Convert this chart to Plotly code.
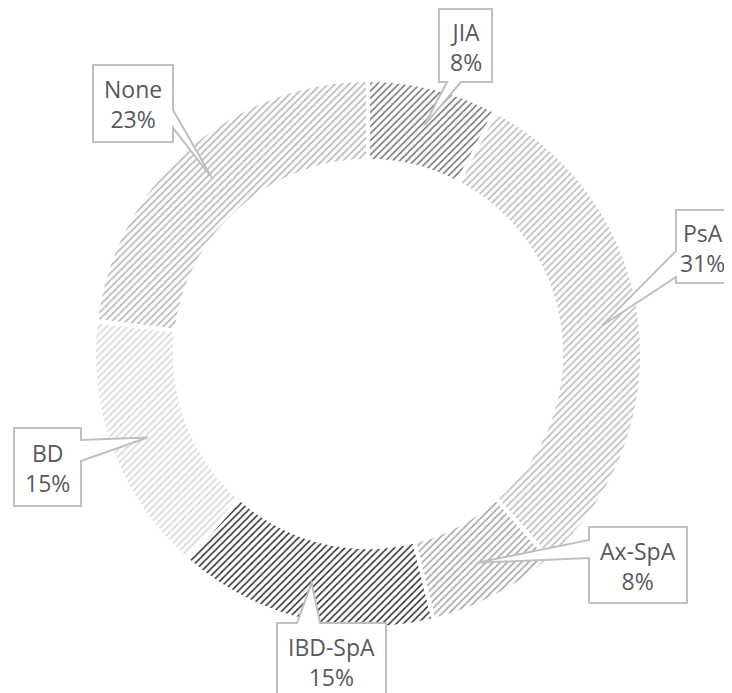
import math
import plotly.graph_objects as go

# ---------------- data ----------------
labels = ["JIA", "PsA", "Ax-SpA", "IBD-SpA", "BD", "None"]
counts = [1, 4, 1, 2, 2, 3]

# ---------------- styles ----------------
bg_colors = ["#cfcfcf", "#ececec", "#dcdcdc", "#b3b3b3", "#f5f5f5", "#e6e6e6"]
fg_colors = ["#737373", "#b9b9b9", "#a2a2a2", "#2e2e2e", "#d6d6d6", "#b3b3b3"]

OFF = 8  # page body margin
W, H = 732 - OFF, 693 - OFF
ML, MT, PW, PH = 86, 72, 548, 548
MR, MB = W - ML - PW, H - MT - PH
CX, CY = OFF + ML + PW / 2, OFF + MT + PH / 2  # page pixels
R = min(PW, PH) / 2
TIP_R = 0.86 * R

# callout boxes in page pixels: box (x0, y0, x1, y1), wedge edge, wedge base span, text centre
callouts = {
    "JIA": dict(box=(439, 9, 492, 82), edge="bottom", base=(447, 461), text=(465.5, 47)),
    "PsA": dict(box=(676, 210, 740, 283), edge="left", base=(251, 277), text=(702, 248)),
    "Ax-SpA": dict(box=(589, 527, 687, 603), edge="left", base=(540, 558), text=(638, 566)),
    "IBD-SpA": dict(box=(277, 623, 386, 705), edge="top", base=(297, 320), text=(331.5, 662)),
    "BD": dict(box=(14, 428, 81, 506), edge="right", base=(440, 461), text=(47.5, 468)),
    "None": dict(box=(93, 65, 173, 142), edge="right", base=(110, 128), text=(133, 104)),
}


def px(x):
    return (x - OFF - ML) / PW


def py(y):
    return (OFF + MT + PH - y) / PH


total = sum(counts)
pcts = [round(100 * c / total) for c in counts]

fig = go.Figure(
    go.Pie(
        labels=labels,
        values=counts,
        hole=0.705,
        sort=False,
        direction="clockwise",
        rotation=0,
        textinfo="none",
        hoverinfo="label+percent",
        marker=dict(
            colors=bg_colors,
            line=dict(color="white", width=4),
            pattern=dict(shape="/", fgcolor=fg_colors, size=5, solidity=0.3),
        ),
        showlegend=False,
    )
)

shapes = []
annotations = []
cum = 0
for lab, c, p in zip(labels, counts, pcts):
    mid = (cum + c / 2) / total * 360
    cum += c
    a = math.radians(mid)
    tx, ty = CX + TIP_R * math.sin(a), CY - TIP_R * math.cos(a)
    co = callouts[lab]
    x0, y0, x1, y1 = co["box"]
    b0, b1 = co["base"]
    e = co["edge"]
    if e == "bottom":
        pts = [(x0, y0), (x1, y0), (x1, y1), (b1, y1), (tx, ty), (b0, y1), (x0, y1)]
    elif e == "top":
        pts = [(x0, y0), (b0, y0), (tx, ty), (b1, y0), (x1, y0), (x1, y1), (x0, y1)]
    elif e == "left":
        pts = [(x0, y0), (x1, y0), (x1, y1), (x0, y1), (x0, b1), (tx, ty), (x0, b0)]
    else:
        pts = [(x0, y0), (x1, y0), (x1, b0), (tx, ty), (x1, b1), (x1, y1), (x0, y1)]
    path = "M " + " L ".join(f"{px(x):.5f},{py(y):.5f}" for x, y in pts) + " Z"
    shapes.append(
        dict(
            type="path",
            path=path,
            xref="paper",
            yref="paper",
            fillcolor="white",
            line=dict(color="#bfbfbf", width=2),
            layer="above",
        )
    )
    tcx, tcy = co["text"]
    annotations.append(
        dict(
            x=px(tcx),
            y=py(tcy),
            xref="paper",
            yref="paper",
            text=f"{lab}<br>{p}%",
            showarrow=False,
            xanchor="center",
            yanchor="middle",
            font=dict(family="Open Sans", size=23, color="#595959"),
        )
    )

fig.update_layout(
    width=W,
    height=H,
    margin=dict(l=ML, r=MR, t=MT, b=MB),
    paper_bgcolor="white",
    plot_bgcolor="white",
    shapes=shapes,
    annotations=annotations,
)

fig.write_html("out.html")
